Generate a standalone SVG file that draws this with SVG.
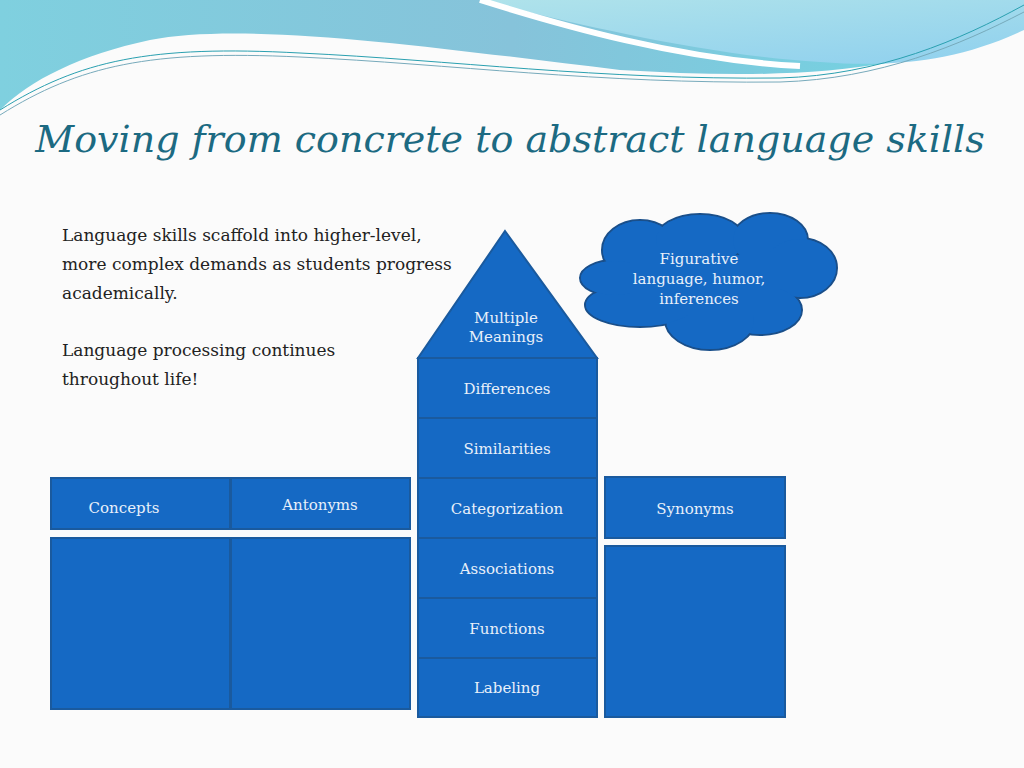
<svg xmlns="http://www.w3.org/2000/svg" width="1024" height="768" viewBox="0 0 1024 768">
<defs>
<linearGradient id="g1" x1="0" y1="0" x2="1" y2="0"><stop offset="0" stop-color="#7fd0df"/><stop offset="0.5" stop-color="#86c3da"/><stop offset="1" stop-color="#6fd6e3"/></linearGradient>
<linearGradient id="g2" x1="0" y1="0" x2="1" y2="1"><stop offset="0" stop-color="#b5e6ea"/><stop offset="1" stop-color="#8fd0ee"/></linearGradient>
</defs>
<style>
.b{fill:#1569c4;stroke:#1a5a9e;stroke-width:2}
.t{font-family:"DejaVu Serif","Liberation Serif",serif;font-size:15px;fill:#e8f0fa;text-anchor:middle}
.p{font-family:"DejaVu Serif","Liberation Serif",serif;font-size:17px;fill:#222}
</style>
<rect width="1024" height="768" fill="#fbfbfb"/>
<path d="M0 0H1024V20C900 80 760 78 620 70 C450 50 250 20 150 40 C80 55 30 80 0 110Z" fill="url(#g1)"/>
<path d="M230 0H1024V30C960 60 900 68 820 62 C700 55 560 20 480 0Z" fill="url(#g2)"/>
<path d="M480 0 C560 25 680 60 800 66" stroke="#fff" stroke-width="6" fill="none"/>
<path d="M0 110 C80 60 150 45 300 53 C450 60 600 80 780 78 C880 75 960 40 1024 5" stroke="#2aa0b0" stroke-width="1" fill="none"/>
<path d="M0 115 C80 65 150 50 300 57 C450 64 600 84 780 82 C880 79 960 45 1024 12" stroke="#7ab" stroke-width="1" fill="none"/>
<text x="510" y="152" text-anchor="middle" font-family="DejaVu Serif,Liberation Serif,serif" font-style="italic" font-size="38" fill="#1c6a82">Moving from concrete to abstract language skills</text>
<g class="p">
<text x="62" y="241">Language skills scaffold into higher-level,</text>
<text x="62" y="270">more complex demands as students progress</text>
<text x="62" y="299">academically.</text>
<text x="62" y="356">Language processing continues</text>
<text x="62" y="385">throughout life!</text>
</g>
<g id="roof"><path class="b" d="M505 231 L597 358 L418 358Z"/><text class="t" x="506" y="323">Multiple</text><text class="t" x="506" y="342">Meanings</text></g>
<g id="differences"><rect class="b" x="418" y="358" width="179" height="60"/><text class="t" x="507" y="394">Differences</text></g>
<g id="similarities"><rect class="b" x="418" y="418" width="179" height="60"/><text class="t" x="507" y="454">Similarities</text></g>
<g id="categorization"><rect class="b" x="418" y="478" width="179" height="60"/><text class="t" x="507" y="514">Categorization</text></g>
<g id="associations"><rect class="b" x="418" y="538" width="179" height="60"/><text class="t" x="507" y="574">Associations</text></g>
<g id="functions"><rect class="b" x="418" y="598" width="179" height="60"/><text class="t" x="507" y="634">Functions</text></g>
<g id="labeling"><rect class="b" x="418" y="658" width="179" height="59"/><text class="t" x="507" y="693">Labeling</text></g>
<g id="concepts"><rect class="b" x="51" y="478" width="179" height="51"/><text class="t" x="124" y="513">Concepts</text></g>
<g id="antonyms"><rect class="b" x="231" y="478" width="179" height="51"/><text class="t" x="320" y="510">Antonyms</text></g>
<g id="left1"><rect class="b" x="51" y="538" width="179" height="171"/></g>
<g id="left2"><rect class="b" x="231" y="538" width="179" height="171"/></g>
<g id="synonyms"><rect class="b" x="605" y="477" width="180" height="61"/><text class="t" x="695" y="514">Synonyms</text></g>
<g id="right1"><rect class="b" x="605" y="546" width="180" height="171"/></g>
<g id="cloud">
<g fill="#1569c4" stroke="#1a4f8a" stroke-width="2">
<ellipse cx="640" cy="250" rx="38" ry="30"/><ellipse cx="700" cy="240" rx="45" ry="26"/><ellipse cx="770" cy="240" rx="38" ry="27"/><ellipse cx="800" cy="268" rx="37" ry="30"/><ellipse cx="760" cy="310" rx="42" ry="25"/><ellipse cx="710" cy="320" rx="45" ry="30"/><ellipse cx="640" cy="305" rx="55" ry="22"/><ellipse cx="615" cy="278" rx="35" ry="18"/>
</g>
<g fill="#1569c4">
<ellipse cx="640" cy="250" rx="37" ry="29"/><ellipse cx="700" cy="240" rx="44" ry="25"/><ellipse cx="770" cy="240" rx="37" ry="26"/><ellipse cx="800" cy="268" rx="36" ry="29"/><ellipse cx="760" cy="310" rx="41" ry="24"/><ellipse cx="710" cy="320" rx="44" ry="29"/><ellipse cx="640" cy="305" rx="54" ry="21"/><ellipse cx="615" cy="278" rx="34" ry="17"/><rect x="630" y="255" width="150" height="60"/>
</g>
<text class="t" x="699" y="264">Figurative</text><text class="t" x="699" y="284">language, humor,</text><text class="t" x="699" y="304">inferences</text>
</g>
<g id="connectors"/>
</svg>
